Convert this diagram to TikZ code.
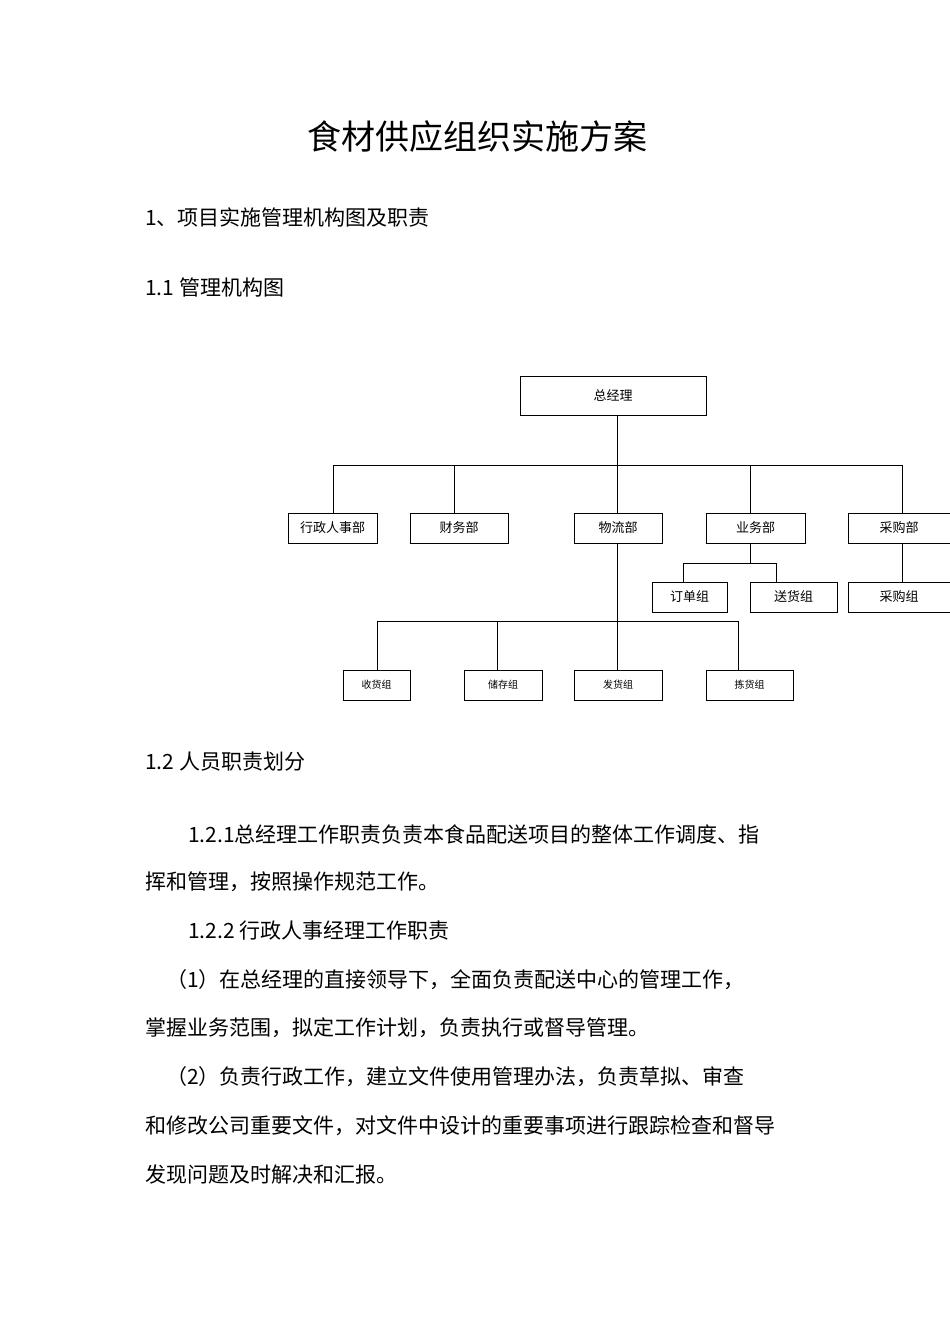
\documentclass[tikz,border=0pt]{standalone}
\usepackage{fontspec}
\setmainfont{Noto Sans CJK SC}
\begin{document}
\begin{tikzpicture}[x=1pt,y=-1pt,
  bx/.style={draw,thick,inner sep=0pt,font=\fontsize{13}{13}\selectfont},
  tx/.style={anchor=west,inner sep=0pt,font=\fontsize{21}{21}\selectfont},
  ln/.style={thick}]
\useasboundingbox (0,0) rectangle (950,1318);
\node[inner sep=0pt,font=\fontsize{34}{34}\selectfont] (title) at (477,137) {食材供应组织实施方案};
\node[tx] (h1) at (145,217) {1、项目实施管理机构图及职责};
\node[tx] (h2) at (145,287) {1.1 管理机构图};
\node[tx] (h3) at (145,762) {1.2 人员职责划分};
\node[tx] (p1) at (188,834) {1.2.1总经理工作职责负责本食品配送项目的整体工作调度、指};
\node[tx] (p2) at (145,882) {挥和管理，按照操作规范工作。};
\node[tx] (p3) at (188,931) {1.2.2 行政人事经理工作职责};
\node[tx] (p4) at (166,980) {（1）在总经理的直接领导下，全面负责配送中心的管理工作，};
\node[tx] (p5) at (145,1028) {掌握业务范围，拟定工作计划，负责执行或督导管理。};
\node[tx] (p6) at (166,1077) {（2）负责行政工作，建立文件使用管理办法，负责草拟、审查};
\node[tx] (p7) at (145,1126) {和修改公司重要文件，对文件中设计的重要事项进行跟踪检查和督导};
\node[tx] (p8) at (145,1174) {发现问题及时解决和汇报。};
% boxes
\node[bx,minimum width=186,minimum height=39] (gm) at (613,395.5) {总经理};
\node[bx,minimum width=89,minimum height=30] (xz) at (332.5,528) {行政人事部};
\node[bx,minimum width=98,minimum height=30] (cw) at (459,528) {财务部};
\node[bx,minimum width=88,minimum height=30] (wl) at (618,528) {物流部};
\node[bx,minimum width=99,minimum height=30] (yw) at (755.5,528) {业务部};
\node[bx,minimum width=102,minimum height=30] (cg) at (899,528) {采购部};
\node[bx,minimum width=75,minimum height=30] (dd) at (689.5,597) {订单组};
\node[bx,minimum width=87,minimum height=30] (sh) at (793.5,597) {送货组};
\node[bx,minimum width=102,minimum height=30] (cgz) at (899,597) {采购组};
\node[bx,minimum width=67,minimum height=30,font=\fontsize{10}{10}\selectfont] (g1) at (376.5,685) {收货组};
\node[bx,minimum width=78,minimum height=30,font=\fontsize{10}{10}\selectfont] (g2) at (503,685) {储存组};
\node[bx,minimum width=88,minimum height=30,font=\fontsize{10}{10}\selectfont] (g3) at (618,685) {发货组};
\node[bx,minimum width=87,minimum height=30,font=\fontsize{10}{10}\selectfont] (g4) at (749.5,685) {拣货组};
% connectors
\coordinate (b1) at (617,465);
\draw[ln] (617,415) -- (b1);
\draw[ln] (333,513) -- (333,465) -- (902,465) -- (902,513);
\draw[ln] (454,465) -- (454,513);
\draw[ln] (617,465) -- (617,513);
\draw[ln] (750,465) -- (750,513);
\draw[ln] (750,543) -- (750,563);
\draw[ln] (683,582) -- (683,563) -- (776,563) -- (776,582);
\draw[ln] (902,543) -- (902,582);
\draw[ln] (617,543) -- (617,670);
\draw[ln] (377,670) -- (377,621) -- (738,621) -- (738,670);
\draw[ln] (497,621) -- (497,670);
\end{tikzpicture}
\end{document}
